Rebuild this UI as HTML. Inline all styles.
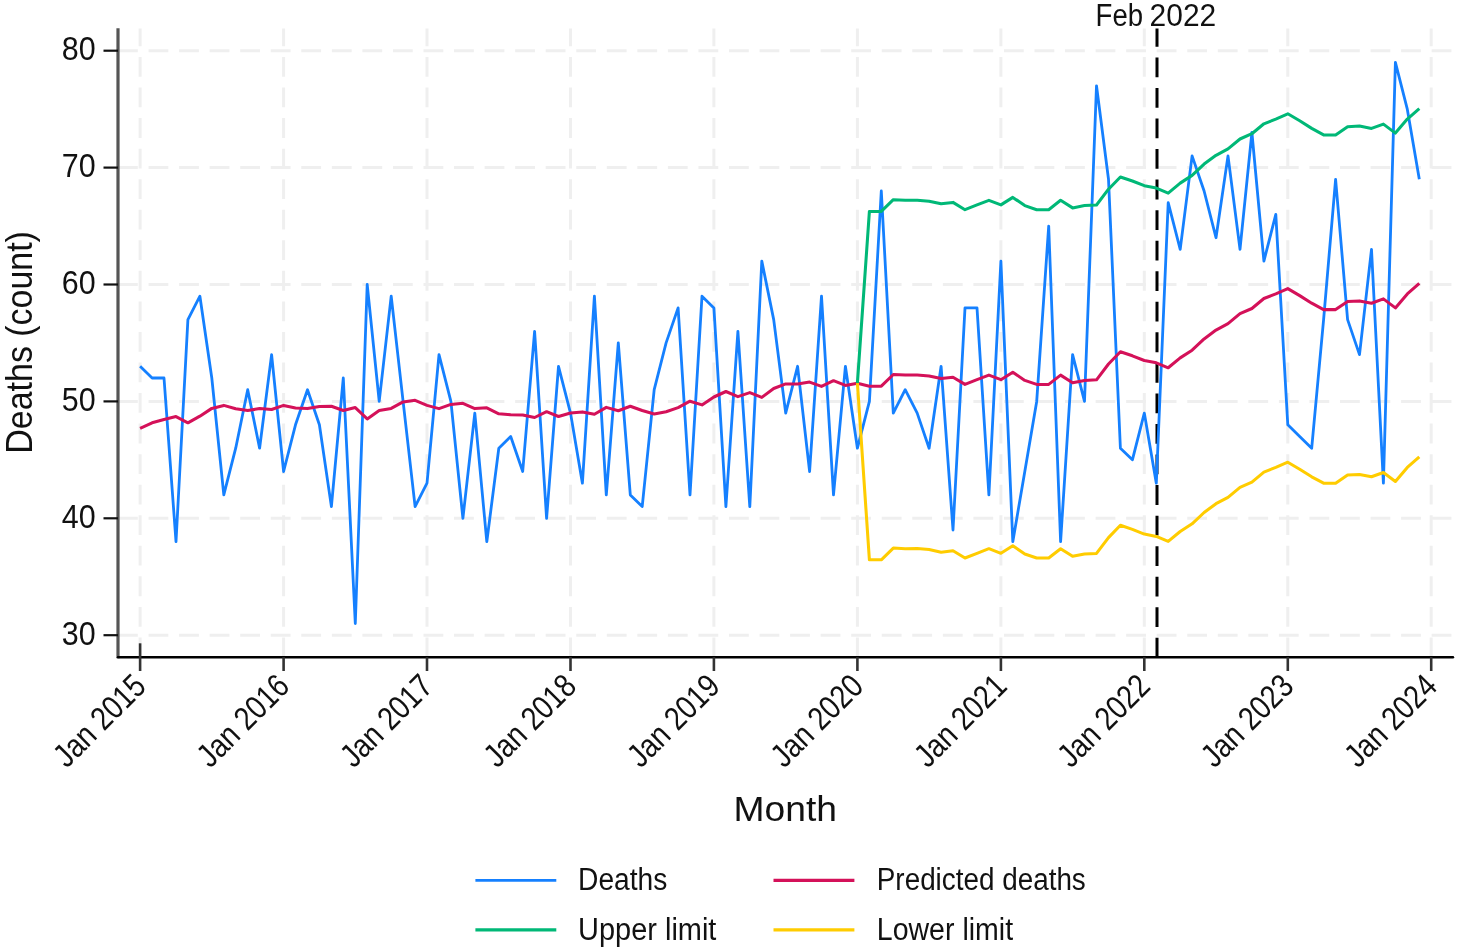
<!DOCTYPE html>
<html lang="en"><head><meta charset="utf-8"><title>Deaths by month</title>
<style>
html,body{margin:0;padding:0;background:#fff;}
body{width:1458px;height:951px;overflow:hidden;}
svg{display:block;filter:blur(0.45px);}
text{font-family:"Liberation Sans",Arial,sans-serif;fill:#111;}
</style></head><body>
<svg width="1458" height="951" viewBox="0 0 1458 951">
<rect width="1458" height="951" fill="#fff"/>

<g stroke="#efefef" stroke-width="3.0" fill="none" stroke-dasharray="19.8 10.75">
<line x1="118" y1="635.2" x2="1452.5" y2="635.2"/>
<line x1="118" y1="518.3" x2="1452.5" y2="518.3"/>
<line x1="118" y1="401.4" x2="1452.5" y2="401.4"/>
<line x1="118" y1="284.5" x2="1452.5" y2="284.5"/>
<line x1="118" y1="167.6" x2="1452.5" y2="167.6"/>
<line x1="118" y1="50.7" x2="1452.5" y2="50.7"/>
<line x1="140.1" y1="28.4" x2="140.1" y2="656" stroke-dashoffset="1.95"/>
<line x1="283.6" y1="28.4" x2="283.6" y2="656" stroke-dashoffset="1.95"/>
<line x1="427.0" y1="28.4" x2="427.0" y2="656" stroke-dashoffset="1.95"/>
<line x1="570.5" y1="28.4" x2="570.5" y2="656" stroke-dashoffset="1.95"/>
<line x1="713.9" y1="28.4" x2="713.9" y2="656" stroke-dashoffset="1.95"/>
<line x1="857.4" y1="28.4" x2="857.4" y2="656" stroke-dashoffset="1.95"/>
<line x1="1000.9" y1="28.4" x2="1000.9" y2="656" stroke-dashoffset="1.95"/>
<line x1="1144.3" y1="28.4" x2="1144.3" y2="656" stroke-dashoffset="1.95"/>
<line x1="1287.8" y1="28.4" x2="1287.8" y2="656" stroke-dashoffset="1.95"/>
<line x1="1431.2" y1="28.4" x2="1431.2" y2="656" stroke-dashoffset="1.95"/>
</g>
<line x1="1157" y1="28.4" x2="1157" y2="656.5" stroke="#000" stroke-width="3" stroke-dasharray="19.8 10.75" stroke-dashoffset="1.55"/>
<g fill="none" stroke-linejoin="round" stroke-linecap="butt">
<polyline stroke="#1580ff" stroke-width="2.8" points="140.1,366.3 152.1,378.0 164.0,378.0 176.0,541.7 187.9,319.6 199.9,296.2 211.8,378.0 223.8,494.9 235.7,448.2 247.7,389.7 259.6,448.2 271.6,354.6 283.6,471.5 295.5,424.8 307.5,389.7 319.4,424.8 331.4,506.6 343.3,378.0 355.3,623.5 367.2,284.5 379.2,401.4 391.2,296.2 403.1,401.4 415.1,506.6 427.0,483.2 439.0,354.6 450.9,401.4 462.9,518.3 474.8,413.1 486.8,541.7 498.8,448.2 510.7,436.5 522.7,471.5 534.6,331.3 546.6,518.3 558.5,366.3 570.5,413.1 582.4,483.2 594.4,296.2 606.3,494.9 618.3,342.9 630.3,494.9 642.2,506.6 654.2,389.7 666.1,342.9 678.1,307.9 690.0,494.9 702.0,296.2 713.9,307.9 725.9,506.6 737.9,331.3 749.8,506.6 761.8,261.1 773.7,319.6 785.7,413.1 797.6,366.3 809.6,471.5 821.5,296.2 833.5,494.9 845.4,366.3 857.4,448.2 869.4,401.4 881.3,191.0 893.3,413.1 905.2,389.7 917.2,413.1 929.1,448.2 941.1,366.3 953.0,530.0 965.0,307.9 977.0,307.9 988.9,494.9 1000.9,261.1 1012.8,541.7 1024.8,471.5 1036.7,401.4 1048.7,226.1 1060.6,541.7 1072.6,354.6 1084.5,401.4 1096.5,85.8 1108.5,179.3 1120.4,448.2 1132.4,459.8 1144.3,413.1 1156.3,483.2 1168.2,202.7 1180.2,249.4 1192.1,155.9 1204.1,191.0 1216.0,237.7 1228.0,155.9 1240.0,249.4 1251.9,132.5 1263.9,261.1 1275.8,214.4 1287.8,424.8 1299.7,436.5 1311.7,448.2 1323.6,319.6 1335.6,179.3 1347.6,319.6 1359.5,354.6 1371.5,249.4 1383.4,483.2 1395.4,62.4 1407.3,109.2 1419.3,179.3"/>
<polyline stroke="#d41159" stroke-width="3.05" points="140.1,428.3 152.1,422.8 164.0,419.5 176.0,416.6 187.9,422.8 199.9,416.2 211.8,408.4 223.8,405.4 235.7,408.8 247.7,410.5 259.6,408.6 271.6,409.5 283.6,405.4 295.5,407.9 307.5,408.6 319.4,406.5 331.4,406.3 343.3,410.5 355.3,407.6 367.2,418.9 379.2,410.5 391.2,408.4 403.1,401.9 415.1,400.3 427.0,405.4 439.0,408.6 450.9,404.4 462.9,403.3 474.8,408.6 486.8,407.8 498.8,413.8 510.7,414.8 522.7,415.0 534.6,417.5 546.6,411.7 558.5,416.5 570.5,413.0 582.4,411.9 594.4,414.3 606.3,407.4 618.3,410.8 630.3,406.3 642.2,410.5 654.2,414.0 666.1,411.7 678.1,407.6 690.0,401.2 702.0,404.9 713.9,397.0 725.9,391.5 737.9,396.6 749.8,392.6 761.8,397.4 773.7,388.5 785.7,383.9 797.6,383.9 809.6,382.1 821.5,386.4 833.5,380.7 845.4,385.4 857.4,383.2 869.4,386.2 881.3,386.2 893.3,374.5 905.2,375.1 917.2,375.0 929.1,375.9 941.1,378.6 953.0,377.2 965.0,384.4 977.0,379.7 988.9,375.1 1000.9,379.7 1012.8,372.2 1024.8,380.4 1036.7,384.4 1048.7,384.4 1060.6,375.1 1072.6,382.7 1084.5,380.4 1096.5,379.8 1108.5,364.0 1120.4,351.7 1132.4,355.8 1144.3,360.5 1156.3,362.8 1168.2,367.8 1180.2,357.9 1192.1,350.2 1204.1,338.9 1216.0,330.1 1228.0,323.7 1240.0,313.7 1251.9,308.5 1263.9,298.5 1275.8,293.9 1287.8,288.6 1299.7,295.6 1311.7,303.2 1323.6,309.6 1335.6,309.6 1347.6,301.5 1359.5,300.9 1371.5,303.2 1383.4,298.9 1395.4,307.9 1407.3,293.9 1419.3,283.3"/>
<polyline stroke="#00b877" stroke-width="3.05" points="857.4,383.2 869.4,211.4 881.3,211.4 893.3,199.7 905.2,200.3 917.2,200.2 929.1,201.2 941.1,203.8 953.0,202.4 965.0,209.7 977.0,204.9 988.9,200.3 1000.9,204.9 1012.8,197.4 1024.8,205.6 1036.7,209.7 1048.7,209.7 1060.6,200.3 1072.6,207.9 1084.5,205.6 1096.5,205.0 1108.5,189.2 1120.4,177.0 1132.4,181.0 1144.3,185.7 1156.3,188.1 1168.2,193.1 1180.2,183.1 1192.1,175.4 1204.1,164.1 1216.0,155.3 1228.0,148.9 1240.0,139.0 1251.9,133.7 1263.9,123.8 1275.8,119.1 1287.8,113.8 1299.7,120.8 1311.7,128.4 1323.6,134.9 1335.6,134.9 1347.6,126.7 1359.5,126.1 1371.5,128.4 1383.4,124.1 1395.4,133.1 1407.3,119.1 1419.3,108.6"/>
<polyline stroke="#ffcc00" stroke-width="3.05" points="857.4,383.2 869.4,559.8 881.3,559.8 893.3,548.1 905.2,548.7 917.2,548.6 929.1,549.5 941.1,552.2 953.0,550.8 965.0,558.0 977.0,553.3 988.9,548.7 1000.9,553.3 1012.8,545.8 1024.8,554.0 1036.7,558.0 1048.7,558.0 1060.6,548.7 1072.6,556.3 1084.5,554.0 1096.5,553.4 1108.5,537.6 1120.4,525.3 1132.4,529.4 1144.3,534.1 1156.3,536.4 1168.2,541.4 1180.2,531.5 1192.1,523.8 1204.1,512.5 1216.0,503.7 1228.0,497.3 1240.0,487.3 1251.9,482.1 1263.9,472.1 1275.8,467.4 1287.8,462.2 1299.7,469.2 1311.7,476.8 1323.6,483.2 1335.6,483.2 1347.6,475.0 1359.5,474.5 1371.5,476.8 1383.4,472.5 1395.4,481.5 1407.3,467.4 1419.3,456.9"/>
</g>
<path d="M118 28.3V658.3" fill="none" stroke="#555" stroke-width="3.2"/>
<path d="M118 657.2H1453" fill="none" stroke="#000" stroke-width="2.4" stroke-linecap="round"/>
<g stroke="#111" stroke-width="2.2">
<line x1="103.5" y1="635.2" x2="118" y2="635.2"/>
<line x1="103.5" y1="518.3" x2="118" y2="518.3"/>
<line x1="103.5" y1="401.4" x2="118" y2="401.4"/>
<line x1="103.5" y1="284.5" x2="118" y2="284.5"/>
<line x1="103.5" y1="167.6" x2="118" y2="167.6"/>
<line x1="103.5" y1="50.7" x2="118" y2="50.7"/>
<line x1="140.1" y1="643.3" x2="140.1" y2="671" stroke="#333" stroke-width="2.6"/>
<line x1="283.6" y1="657.2" x2="283.6" y2="671" stroke="#333" stroke-width="2.6"/>
<line x1="427.0" y1="657.2" x2="427.0" y2="671" stroke="#333" stroke-width="2.6"/>
<line x1="570.5" y1="657.2" x2="570.5" y2="671" stroke="#333" stroke-width="2.6"/>
<line x1="713.9" y1="657.2" x2="713.9" y2="671" stroke="#333" stroke-width="2.6"/>
<line x1="857.4" y1="657.2" x2="857.4" y2="671" stroke="#333" stroke-width="2.6"/>
<line x1="1000.9" y1="657.2" x2="1000.9" y2="671" stroke="#333" stroke-width="2.6"/>
<line x1="1144.3" y1="657.2" x2="1144.3" y2="671" stroke="#333" stroke-width="2.6"/>
<line x1="1287.8" y1="657.2" x2="1287.8" y2="671" stroke="#333" stroke-width="2.6"/>
<line x1="1431.2" y1="657.2" x2="1431.2" y2="671" stroke="#333" stroke-width="2.6"/>
</g>
<text x="95.6" y="644.9" font-size="33" text-anchor="end" textLength="33.9" lengthAdjust="spacingAndGlyphs">30</text>
<text x="95.6" y="528.0" font-size="33" text-anchor="end" textLength="33.9" lengthAdjust="spacingAndGlyphs">40</text>
<text x="95.6" y="411.1" font-size="33" text-anchor="end" textLength="33.9" lengthAdjust="spacingAndGlyphs">50</text>
<text x="95.6" y="294.2" font-size="33" text-anchor="end" textLength="33.9" lengthAdjust="spacingAndGlyphs">60</text>
<text x="95.6" y="177.3" font-size="33" text-anchor="end" textLength="33.9" lengthAdjust="spacingAndGlyphs">70</text>
<text x="95.6" y="60.4" font-size="33" text-anchor="end" textLength="33.9" lengthAdjust="spacingAndGlyphs">80</text>
<text transform="translate(147.8,688.0) rotate(-45)" font-size="33" text-anchor="end" textLength="114.5" lengthAdjust="spacingAndGlyphs">Jan 2015</text>
<text transform="translate(291.3,688.0) rotate(-45)" font-size="33" text-anchor="end" textLength="114.5" lengthAdjust="spacingAndGlyphs">Jan 2016</text>
<text transform="translate(434.7,688.0) rotate(-45)" font-size="33" text-anchor="end" textLength="114.5" lengthAdjust="spacingAndGlyphs">Jan 2017</text>
<text transform="translate(578.2,688.0) rotate(-45)" font-size="33" text-anchor="end" textLength="114.5" lengthAdjust="spacingAndGlyphs">Jan 2018</text>
<text transform="translate(721.6,688.0) rotate(-45)" font-size="33" text-anchor="end" textLength="114.5" lengthAdjust="spacingAndGlyphs">Jan 2019</text>
<text transform="translate(865.1,688.0) rotate(-45)" font-size="33" text-anchor="end" textLength="114.5" lengthAdjust="spacingAndGlyphs">Jan 2020</text>
<text transform="translate(1008.6,688.0) rotate(-45)" font-size="33" text-anchor="end" textLength="114.5" lengthAdjust="spacingAndGlyphs">Jan 2021</text>
<text transform="translate(1152.0,688.0) rotate(-45)" font-size="33" text-anchor="end" textLength="114.5" lengthAdjust="spacingAndGlyphs">Jan 2022</text>
<text transform="translate(1295.5,688.0) rotate(-45)" font-size="33" text-anchor="end" textLength="114.5" lengthAdjust="spacingAndGlyphs">Jan 2023</text>
<text transform="translate(1438.9,688.0) rotate(-45)" font-size="33" text-anchor="end" textLength="114.5" lengthAdjust="spacingAndGlyphs">Jan 2024</text>
<text transform="translate(31.5,342.4) rotate(-90)" font-size="36.5" text-anchor="middle" textLength="222.5" lengthAdjust="spacingAndGlyphs">Deaths (count)</text>
<text x="785.2" y="820.8" font-size="35" text-anchor="middle" textLength="103.5" lengthAdjust="spacingAndGlyphs">Month</text>
<text y="26.2" font-size="31"><tspan x="1095.6" textLength="47.5" lengthAdjust="spacingAndGlyphs">Feb</tspan> <tspan x="1149.6" textLength="66.6" lengthAdjust="spacingAndGlyphs">2022</tspan></text>
<g fill="none" stroke-width="3.4">
<line x1="475.4" y1="880.4" x2="556.3" y2="880.4" stroke="#1580ff" stroke-width="2.9"/>
<line x1="475.4" y1="929.9" x2="556.3" y2="929.9" stroke="#00b877"/>
<line x1="773.5" y1="880.4" x2="854.4" y2="880.4" stroke="#d41159"/>
<line x1="773.5" y1="929.9" x2="854.4" y2="929.9" stroke="#ffcc00"/>
</g>
<text x="578.1" y="889.5" font-size="31" textLength="89.3" lengthAdjust="spacingAndGlyphs">Deaths</text>
<text x="578.1" y="939.6" font-size="31" textLength="138.3" lengthAdjust="spacingAndGlyphs">Upper limit</text>
<text x="876.8" y="889.5" font-size="31" textLength="209" lengthAdjust="spacingAndGlyphs">Predicted deaths</text>
<text x="876.8" y="939.6" font-size="31" textLength="136.3" lengthAdjust="spacingAndGlyphs">Lower limit</text>
</svg>
</body></html>
